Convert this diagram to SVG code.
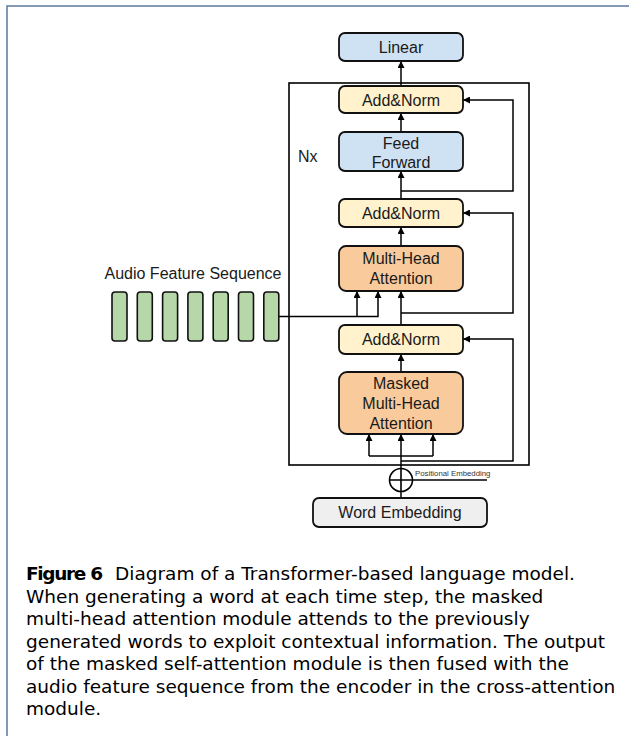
<svg xmlns="http://www.w3.org/2000/svg" width="629" height="736" viewBox="0 0 629 736">
<style>
.box{stroke:#111;stroke-width:1.8}
.lin{fill:#cfe2f3}.an{fill:#fff2cc}.mha{fill:#f9cb9c}.we{fill:#efefef}.bar{fill:#b6d7a8;stroke:#111;stroke-width:1.6}
.t{font-family:"Liberation Sans",Arial,sans-serif;font-size:16px;fill:#1a1a1a;text-anchor:middle}
.c{fill:none;stroke:#000;stroke-width:1.5}
.cap{font-family:"DejaVu Sans","Liberation Sans",sans-serif;font-size:18.5px;fill:#000}
</style>
<defs>
<marker id="ah" viewBox="0 0 10 10" refX="10" refY="5" markerWidth="7" markerHeight="7" markerUnits="userSpaceOnUse" orient="auto">
<path d="M0,0 L10,5 L0,10 z" fill="#000"/>
</marker>
</defs>
<rect width="629" height="736" fill="#fff"/>
<rect x="7" y="6" width="660" height="760" fill="none" stroke="#5b7aa0" stroke-width="1.5"/>

<g id="frame">
<rect x="289" y="83" width="240" height="382" fill="none" stroke="#000" stroke-width="1.6"/>
<text x="298" y="162" class="t" style="text-anchor:start">Nx</text>
</g>

<g id="connectors">
<path class="c" d="M401,86 V61" marker-end="url(#ah)"/>
<path class="c" d="M401,132 V113" marker-end="url(#ah)"/>
<path class="c" d="M401,199 V171" marker-end="url(#ah)"/>
<path class="c" d="M401,191 H513 V100 H463" marker-end="url(#ah)"/>
<path class="c" d="M401,246 V227" marker-end="url(#ah)"/>
<path class="c" d="M401,313 H513 V213 H463" marker-end="url(#ah)"/>
<path class="c" d="M401,325 V291" marker-end="url(#ah)"/>
<path class="c" d="M279,316.5 H378 V291" marker-end="url(#ah)"/>
<path class="c" d="M357,316.5 V291" marker-end="url(#ah)"/>
<path class="c" d="M401,372 V354" marker-end="url(#ah)"/>
<path class="c" d="M401,461 H513 V339 H463" marker-end="url(#ah)"/>
<path class="c" d="M401,498 V434" marker-end="url(#ah)"/>
<path class="c" d="M369,456 H433"/>
<path class="c" d="M369,456 V434" marker-end="url(#ah)"/>
<path class="c" d="M433,456 V434" marker-end="url(#ah)"/>
<path class="c" d="M412.5,480 H487"/>
</g>

<g id="linear"><rect class="box lin" x="339" y="33" width="124" height="28" rx="6"/><text class="t" x="401" y="52.5">Linear</text></g>
<g id="addnorm1"><rect class="box an" x="339" y="86" width="124" height="27" rx="6"/><text class="t" x="401" y="105.5">Add&amp;Norm</text></g>
<g id="feedforward"><rect class="box lin" x="339" y="132" width="124" height="39" rx="6"/><text class="t" x="401" y="148.5">Feed</text><text class="t" x="401" y="167.5">Forward</text></g>
<g id="addnorm2"><rect class="box an" x="339" y="199" width="124" height="28" rx="6"/><text class="t" x="401" y="219">Add&amp;Norm</text></g>
<g id="mha"><rect class="box mha" x="339" y="246" width="124" height="45" rx="7"/><text class="t" x="401" y="264">Multi-Head</text><text class="t" x="401" y="284">Attention</text></g>
<g id="addnorm3"><rect class="box an" x="339" y="325" width="124" height="29" rx="6"/><text class="t" x="401" y="345">Add&amp;Norm</text></g>
<g id="maskedmha"><rect class="box mha" x="339" y="372" width="124" height="62" rx="8"/><text class="t" x="401" y="389">Masked</text><text class="t" x="401" y="409">Multi-Head</text><text class="t" x="401" y="429">Attention</text></g>
<g id="wordembedding"><rect class="box we" x="313" y="498" width="174" height="29" rx="6"/><text class="t" x="400" y="518">Word Embedding</text></g>

<g id="posenc">
<circle cx="401" cy="480" r="11.5" fill="#fff" stroke="#000" stroke-width="1.6"/>
<path d="M401,468.5 V491.5 M389.5,480 H412.5" stroke="#000" stroke-width="1.6"/>
<text x="415" y="476" style="font-family:'Liberation Sans',Arial,sans-serif;font-size:7.8px;fill:#333">Positional Embedding</text>
</g>

<g id="audio">
<text class="t" x="193" y="279">Audio Feature Sequence</text>
<rect class="bar" x="112" y="292" width="15" height="49" rx="3"/>
<rect class="bar" x="137.3" y="292" width="15" height="49" rx="3"/>
<rect class="bar" x="162.6" y="292" width="15" height="49" rx="3"/>
<rect class="bar" x="187.9" y="292" width="15" height="49" rx="3"/>
<rect class="bar" x="213.2" y="292" width="15" height="49" rx="3"/>
<rect class="bar" x="238.5" y="292" width="15" height="49" rx="3"/>
<rect class="bar" x="263.8" y="292" width="15" height="49" rx="3"/>
</g>

<g id="caption" class="cap">
<text x="26" y="580"><tspan font-weight="bold" textLength="77">Figure 6</tspan><tspan x="115">Diagram of a Transformer-based language model.</tspan></text>
<text x="26" y="602.5">When generating a word at each time step, the masked</text>
<text x="26" y="625">multi-head attention module attends to the previously</text>
<text x="26" y="647.5">generated words to exploit contextual information. The output</text>
<text x="26" y="670">of the masked self-attention module is then fused with the</text>
<text x="26" y="692.5">audio feature sequence from the encoder in the cross-attention</text>
<text x="26" y="715">module.</text>
</g>
</svg>
